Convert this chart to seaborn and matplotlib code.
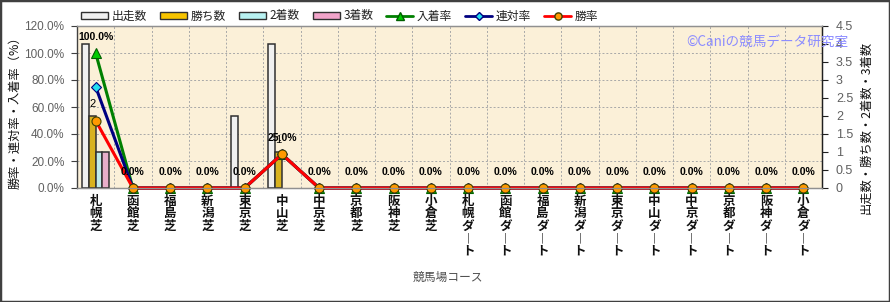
import numpy as np
import pandas as pd
import seaborn as sns
import matplotlib
matplotlib.use("Agg")
import matplotlib.pyplot as plt
from matplotlib.patches import Patch, Rectangle
from matplotlib.lines import Line2D
from matplotlib.ticker import FixedLocator

# ---------------- data ----------------
courses = ["札幌芝", "函館芝", "福島芝", "新潟芝", "東京芝", "中山芝", "中京芝", "京都芝", "阪神芝", "小倉芝",
           "札幌ダート", "函館ダート", "福島ダート", "新潟ダート", "東京ダート", "中山ダート", "中京ダート",
           "京都ダート", "阪神ダート", "小倉ダート"]
starts  = [4, 0, 0, 0, 2, 4, 0, 0, 0, 0, 0, 0, 0, 0, 0, 0, 0, 0, 0, 0]
wins    = [2, 0, 0, 0, 0, 1, 0, 0, 0, 0, 0, 0, 0, 0, 0, 0, 0, 0, 0, 0]
seconds = [1, 0, 0, 0, 0, 0, 0, 0, 0, 0, 0, 0, 0, 0, 0, 0, 0, 0, 0, 0]
thirds  = [1, 0, 0, 0, 0, 0, 0, 0, 0, 0, 0, 0, 0, 0, 0, 0, 0, 0, 0, 0]
place_rate = [100, 0, 0, 0, 0, 25, 0, 0, 0, 0, 0, 0, 0, 0, 0, 0, 0, 0, 0, 0]
rentai_rate = [75, 0, 0, 0, 0, 25, 0, 0, 0, 0, 0, 0, 0, 0, 0, 0, 0, 0, 0, 0]
win_rate = [50, 0, 0, 0, 0, 25, 0, 0, 0, 0, 0, 0, 0, 0, 0, 0, 0, 0, 0, 0]
bar_names = ["出走数", "勝ち数", "2着数", "3着数"]
line_names = ["入着率", "連対率", "勝率"]
left_ticks = [0, 20, 40, 60, 80, 100, 120]
right_ticks = [0, 0.5, 1, 1.5, 2, 2.5, 3, 3.5, 4, 4.5]

# ---------------- style ----------------
sns.set_theme(style="white")
plt.rcParams['font.family'] = ['Noto Sans CJK JP', 'DejaVu Sans']
NUM_FONT = ['Liberation Sans', 'DejaVu Sans']

bar_colors = ["#F0F0F0", "#F7C400", "#B8F2F2", "#F2A4CA"]
edge = "#303030"

df = pd.DataFrame({"course": courses, bar_names[0]: starts, bar_names[1]: wins,
                   bar_names[2]: seconds, bar_names[3]: thirds})
long = df.melt(id_vars="course", var_name="kind", value_name="count")

fig = plt.figure(figsize=(8.9, 3.02), dpi=100)
ax = fig.add_axes([77/890, 1-188/302, (822-77)/890, (188-26)/302])
ax.set_facecolor("#FBF0D8")

sns.barplot(data=long, x="course", y="count", hue="kind", order=courses, hue_order=bar_names,
            palette=dict(zip(bar_names, bar_colors)), width=0.72, edgecolor=edge, linewidth=1.1,
            legend=False, ax=ax, zorder=3)
for p in ax.patches:
    if p.get_height() == 0:
        p.set_linewidth(0)
ax.set_ylim(0, 4.5)
ax.set_xlim(-0.5, len(courses) - 0.5)

ax2 = ax.twinx()
ax.yaxis.tick_right()
ax2.yaxis.tick_left()

line_specs = [
    (place_rate, "#008000", "^", "#00CC00", "#006000", 7.5),
    (rentai_rate, "#000080", "D", "#22E0F0", "#000080", 5),
    (win_rate, "#FF0000", "o", "#FF9900", "#404000", 6.5),
]
for vals, lc, mk, mfc, mec, ms in line_specs:
    sns.pointplot(x=courses, y=vals, order=courses, ax=ax2, color=lc, errorbar=None,
                  linewidth=2.2, marker=mk, markersize=ms)
    ln = ax2.lines[-1]
    ln.set_markerfacecolor(mfc)
    ln.set_markeredgecolor(mec)
    ln.set_markeredgewidth(0.8)
    ln.set_linewidth(2.2)
    ln.set_clip_on(False)

ax2.set_ylim(0, 120)
ax2.set_xlim(-0.5, len(courses) - 0.5)
ax2.set_ylabel("")
ax.set_ylabel("")
ax.set_xlabel("")

# grid
ax.xaxis.set_minor_locator(FixedLocator(np.arange(len(courses) + 1) - 0.5))
ax.grid(which="minor", axis="x", color="#A8A8A8", linestyle=(0, (2, 2)), linewidth=0.7, zorder=0)
ax.grid(which="major", axis="x", visible=False)
for t in left_ticks[1:]:
    ax.axhline(t * 4.5 / 120, color="#A8A8A8", linestyle=(0, (2, 2)), linewidth=0.7, zorder=0)

# ticks
ax2.set_yticks(left_ticks)
ax2.set_yticklabels([f"{t:.1f}%" for t in left_ticks], fontsize=8.5, color="#606060",
                    family=NUM_FONT)
ax2.tick_params(axis="y", direction="out", length=4, width=0.8, color="#404040", pad=5)
ax.set_yticks(right_ticks)
ax.set_yticklabels([f"{t:g}" for t in right_ticks], fontsize=9, color="#606060", family=NUM_FONT)
ax.tick_params(axis="y", direction="out", length=4, width=0.8, color="#202020", pad=6)
ax.tick_params(axis="x", which="both", length=0, pad=5)
ax.set_xticks(range(len(courses)))
ax.set_xticklabels(["\n".join(list(c.replace("ー", "︱"))) for c in courses],
                   fontsize=9, fontweight="bold", color="#111111", linespacing=0.95)

for a in (ax, ax2):
    for s in a.spines.values():
        s.set_color("#909090")
        s.set_linewidth(0.9)
ax.spines["right"].set_color("#202020")
ax2.spines["right"].set_color("#202020")
ax2.spines["left"].set_color("#404040")

# labels
for i, v in enumerate(place_rate):
    ax2.annotate(f"{v:.1f}%", xy=(i, v), xytext=(0, 11.5), textcoords="offset points",
                 ha="center", va="center", fontsize=7.5, fontweight="bold", family=NUM_FONT,
                 color="#000000", zorder=10, annotation_clip=False)
ax.bar_label(ax.containers[1], labels=[str(v) if v else "" for v in wins], padding=5,
             fontsize=8, family=NUM_FONT, color="#000000")

fig.text(15/890, 1-110/302, "勝率・連対率・入着率（%）", rotation=90, ha="center", va="center",
         fontsize=8.8, color="#111111")
fig.text(866/890, 1-127/302, "出走数・勝ち数・2着数・3着数", rotation=90, ha="center", va="center",
         fontsize=8.8, color="#111111")
fig.text(448/890, 1-277/302, "競馬場コース", ha="center", va="center", fontsize=8.5, color="#505050")
fig.text(686/890, 1-42/302, "©Caniの競馬データ研究室", ha="left", va="center", fontsize=9.8,
         color="#8C8CFF")

# legend
handles = [Patch(facecolor=c, edgecolor=edge, linewidth=1) for c in bar_colors]
for vals, lc, mk, mfc, mec, ms in line_specs:
    handles.append(Line2D([], [], color=lc, linewidth=2, marker=mk, markerfacecolor=mfc,
                          markeredgecolor=mec, markersize=ms * 0.8))
fig.legend(handles, bar_names + line_names, loc="center left", bbox_to_anchor=(81/890, 1-16/302),
           ncol=7, frameon=False, fontsize=8.5, handlelength=2.3, handleheight=0.5,
           handletextpad=0.3, columnspacing=1.1, borderpad=0, borderaxespad=0, labelcolor="#222222")

fig.patches.append(Rectangle((0, 0), 1, 1, transform=fig.transFigure, fill=False,
                             edgecolor="#404040", linewidth=2.5))

fig.savefig("out.png", dpi=100)
